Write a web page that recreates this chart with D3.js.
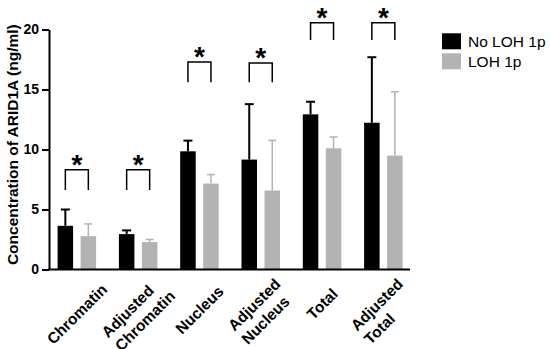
<!DOCTYPE html>
<html><head><meta charset="utf-8">
<script src="https://cdn.jsdelivr.net/npm/d3@7"></script>
<style>body{margin:0;background:#fff} svg{display:block}</style>
</head><body><svg id="c" width="550" height="349"></svg>
<script>
// ---- data ----
const categories = ["Chromatin", "Adjusted Chromatin", "Nucleus", "Adjusted Nucleus", "Total", "Adjusted Total"];
const labelLines = [["Chromatin"], ["Adjusted", "Chromatin"], ["Nucleus"], ["Adjusted", "Nucleus"], ["Total"], ["Adjusted", "Total"]];
const seriesNames = ["No LOH 1p", "LOH 1p"];
const noLohMean = [3.64, 2.95, 9.85, 9.16, 12.93, 12.23];
const noLohSD   = [1.36, 0.31, 0.89, 4.62, 1.05, 5.46];
const lohMean   = [2.78, 2.29, 7.16, 6.58, 10.10, 9.49];
const lohSD     = [1.02, 0.21, 0.75, 4.18, 0.94, 5.32];
const sigTop    = [8.32, 8.32, 17.29, 17.2, 20.57, 20.57];
const sigLeg    = [6.62, 6.62, 15.6, 15.6, 19.13, 19.13];
const sigLabel  = ["*", "*", "*", "*", "*", "*"];
const yTicks = [0, 5, 10, 15, 20];
const yTitle = "Concentration of ARID1A (ng/ml)";
const colors = ["#000000", "#b3b3b3"];

const FONT = "'Liberation Sans', Arial, Helvetica, sans-serif";
const svg = d3.select("#c");

const y = d3.scaleLinear().domain([0, 20]).range([269.5, 29.5]);
const x = d3.scaleBand().domain(categories).range([46.2, 414]);
const xSub = d3.scaleBand().domain(seriesNames).range([11.4, 49.9]).paddingInner(0.326);
const axisX = 49;

const series = [
  {name: seriesNames[0], mean: noLohMean, sd: noLohSD, color: colors[0], ew: 2, cap: 9},
  {name: seriesNames[1], mean: lohMean, sd: lohSD, color: colors[1], ew: 1.5, cap: 8}
];

// bars + upper SD whiskers
series.forEach(s => {
  const g = svg.append("g");
  const rows = categories.map((c, i) => ({c, m: s.mean[i], sd: s.sd[i]}));
  g.selectAll("rect").data(rows).join("rect")
    .attr("x", d => x(d.c) + xSub(s.name))
    .attr("width", xSub.bandwidth())
    .attr("y", d => y(d.m))
    .attr("height", d => y(0) - y(d.m))
    .attr("fill", s.color);
  const cx = d => x(d.c) + xSub(s.name) + xSub.bandwidth() / 2;
  g.selectAll("line.v").data(rows).join("line").attr("class", "v")
    .attr("x1", cx).attr("x2", cx)
    .attr("y1", d => y(d.m)).attr("y2", d => y(d.m + d.sd))
    .attr("stroke", s.color).attr("stroke-width", s.ew);
  g.selectAll("line.h").data(rows).join("line").attr("class", "h")
    .attr("x1", d => cx(d) - s.cap / 2).attr("x2", d => cx(d) + s.cap / 2)
    .attr("y1", d => y(d.m + d.sd)).attr("y2", d => y(d.m + d.sd))
    .attr("stroke", s.color).attr("stroke-width", s.ew);
});

// significance brackets
const sig = categories.map((c, i) => ({c, top: sigTop[i], leg: sigLeg[i], lab: sigLabel[i]}));
const cxs = (c, k) => x(c) + xSub(seriesNames[k]) + xSub.bandwidth() / 2;
svg.append("g").selectAll("path").data(sig).join("path")
  .attr("d", d => d3.line()([[cxs(d.c, 0), y(d.leg)], [cxs(d.c, 0), y(d.top)], [cxs(d.c, 1), y(d.top)], [cxs(d.c, 1), y(d.leg)]]))
  .attr("fill", "none").attr("stroke", "#000").attr("stroke-width", 1.5);
svg.append("g").selectAll("text").data(sig).join("text")
  .attr("x", d => (cxs(d.c, 0) + cxs(d.c, 1)) / 2)
  .attr("y", d => y(d.top) + 4)
  .attr("text-anchor", "middle")
  .style("font-family", FONT).style("font-weight", "bold").style("font-size", "28px")
  .text(d => d.lab);

// y axis
const ya = svg.append("g").attr("transform", `translate(${axisX},0)`)
  .call(d3.axisLeft(y).tickValues(yTicks).tickSize(7).tickSizeOuter(0).tickPadding(3));
ya.select(".domain").attr("stroke-width", 2);
ya.selectAll(".tick line").attr("stroke-width", 2);
ya.selectAll(".tick text").style("font-family", FONT).style("font-weight", "bold").style("font-size", "14px").attr("fill", "#000");

// x axis line
svg.append("path").attr("d", d3.line()([[axisX - 1, y(0)], [x.range()[1] - 4, y(0)]]))
  .attr("stroke", "#000").attr("stroke-width", 2);

// x labels (rotated -45°, lines start-aligned)
const LS = 15.5, LH = 19;
categories.forEach((c, i) => {
  const lines = labelLines[i];
  const t = svg.append("text").style("font-family", FONT).style("font-weight", "bold").style("font-size", LS + "px");
  const tsp = lines.map(l => t.append("tspan").text(l));
  const w = d3.max(tsp, s => s.node().getComputedTextLength());
  tsp.forEach((s, j) => s.attr("x", -w / 2).attr("y", (j - (lines.length - 1) / 2) * LH + 0.36 * LS));
  const cx = x(c) + x.bandwidth() / 2;
  t.attr("transform", "translate(" + cx.toFixed(2) + "," + (295 + 0.244 * w).toFixed(2) + ") rotate(-45)");
});

// y title
svg.append("text").attr("transform", "translate(18,144.7) rotate(-90)")
  .attr("text-anchor", "middle")
  .style("font-family", FONT).style("font-weight", "bold").style("font-size", "15.5px")
  .text(yTitle);

// legend
const lg = svg.append("g");
seriesNames.forEach((n, i) => {
  lg.append("rect").attr("x", 442).attr("y", 33.3 + i * 20).attr("width", 19).attr("height", 16).attr("fill", colors[i]);
  lg.append("text").attr("x", 468).attr("y", 46.7 + i * 20)
    .style("font-family", FONT).style("font-size", "15.5px").text(n);
});
</script></body></html>
